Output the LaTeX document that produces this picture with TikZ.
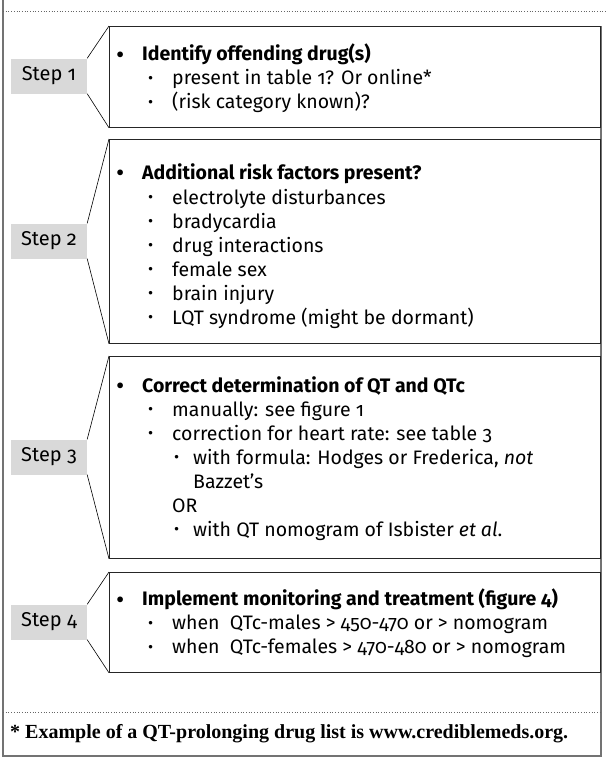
\documentclass[tikz,border=0pt]{standalone}
\usepackage{fontspec}
\setmainfont{Fira Sans}[Numbers=OldStyle]
\newfontfamily\notefont{Liberation Serif}
\usetikzlibrary{positioning}

% bullet levels of the step texts
\newcommand{\smallbul}{\raisebox{0.08em}{\scalebox{0.8}{\textbullet}}}
\newcommand{\mainpt}[1]{\makebox[26pt][l]{\raisebox{-0.12em}{\scalebox{1.3}{\textbullet}}}\textbf{#1}}
\newcommand{\subpt}[1]{\hspace*{32pt}\makebox[24pt][l]{\smallbul}#1}
\newcommand{\subsubpt}[1]{\hspace*{58pt}\makebox[19pt][l]{\smallbul}#1}

\begin{document}
\begin{tikzpicture}[x=1pt, y=-1pt,
    stepbox/.style={rectangle, draw=black!85, line width=0.8pt, anchor=north west, inner sep=0pt},
    steplabel/.style={rectangle, fill=black!15, minimum width=76pt, minimum height=35pt, inner sep=0pt, font=\fontsize{20}{24}\selectfont},
    itemtext/.style={anchor=north west, align=left, inner sep=0pt, font=\fontsize{19.5}{24}\selectfont},
    callout/.style={draw=black, line width=0.6pt}]
  \useasboundingbox (0,0) rectangle (606,758);

  % outer frame
  \draw[black!55, line width=1.5pt] (3,0) -- (3,756) -- (601,756) -- (601,26);
  \draw[black!60, line width=0.7pt, dotted] (3,11) -- (606,11);
  \draw[black!60, line width=0.7pt, dotted] (3,712) -- (601,712);

  % boxes
  \node (box1) [stepbox, minimum width=491pt, minimum height=101pt] at (109,26) {};
  \node (box2) [stepbox, minimum width=491pt, minimum height=204pt] at (109,139) {};
  \node (box3) [stepbox, minimum width=491pt, minimum height=202pt] at (109,356) {};
  \node (box4) [stepbox, minimum width=491pt, minimum height=100pt] at (109,572) {};

  % step labels
  \node (lab1) [steplabel] at (49,76) {Step 1};
  \node (lab2) [steplabel] at (49,241) {Step 2};
  \node (lab3) [steplabel] at (49,457) {Step 3};
  \node (lab4) [steplabel] at (49,622) {Step 4};

  \foreach \i in {1,2,3,4} {
    \draw[callout] (box\i.north west) -- (lab\i.north east);
    \draw[callout] (lab\i.south east) -- (box\i.south west);
  }

  % texts
  \node (txt1) [itemtext] at (116,44) {%
    \mainpt{Identify offending drug(s)}\\
    \subpt{present in table 1? Or online*}\\
    \subpt{(risk category known)?}};
  \node (txt2) [itemtext] at (116,163) {%
    \mainpt{Additional risk factors present?}\\[1pt]
    \subpt{electrolyte disturbances}\\
    \subpt{bradycardia}\\
    \subpt{drug interactions}\\
    \subpt{female sex}\\
    \subpt{brain injury}\\
    \subpt{LQT syndrome (might be dormant)}};
  \node (txt3) [itemtext] at (116,376) {%
    \mainpt{Correct determination of QT and QTc}\\
    \subpt{manually: see figure 1}\\
    \subpt{correction for heart rate: see table 3}\\
    \subsubpt{with formula: Hodges or Frederica, \textit{not}}\\
    \hspace*{77pt}Bazzet's\\
    \hspace*{56pt}OR\\
    \subsubpt{with QT nomogram of Isbister \textit{et al}.}};
  \node (txt4) [itemtext] at (116,589) {%
    \mainpt{Implement monitoring and treatment (figure 4)}\\
    \subpt{when~ QTc-males > 450-470 or > nomogram}\\
    \subpt{when~ QTc-females > 470-480 or > nomogram}};

  % footnote
  \node (note) [anchor=west, inner sep=0pt, font=\notefont\bfseries\fontsize{20}{24}\selectfont] at (10,734)
    {* Example of a QT-prolonging drug list is www.crediblemeds.org.};
\end{tikzpicture}
\end{document}
